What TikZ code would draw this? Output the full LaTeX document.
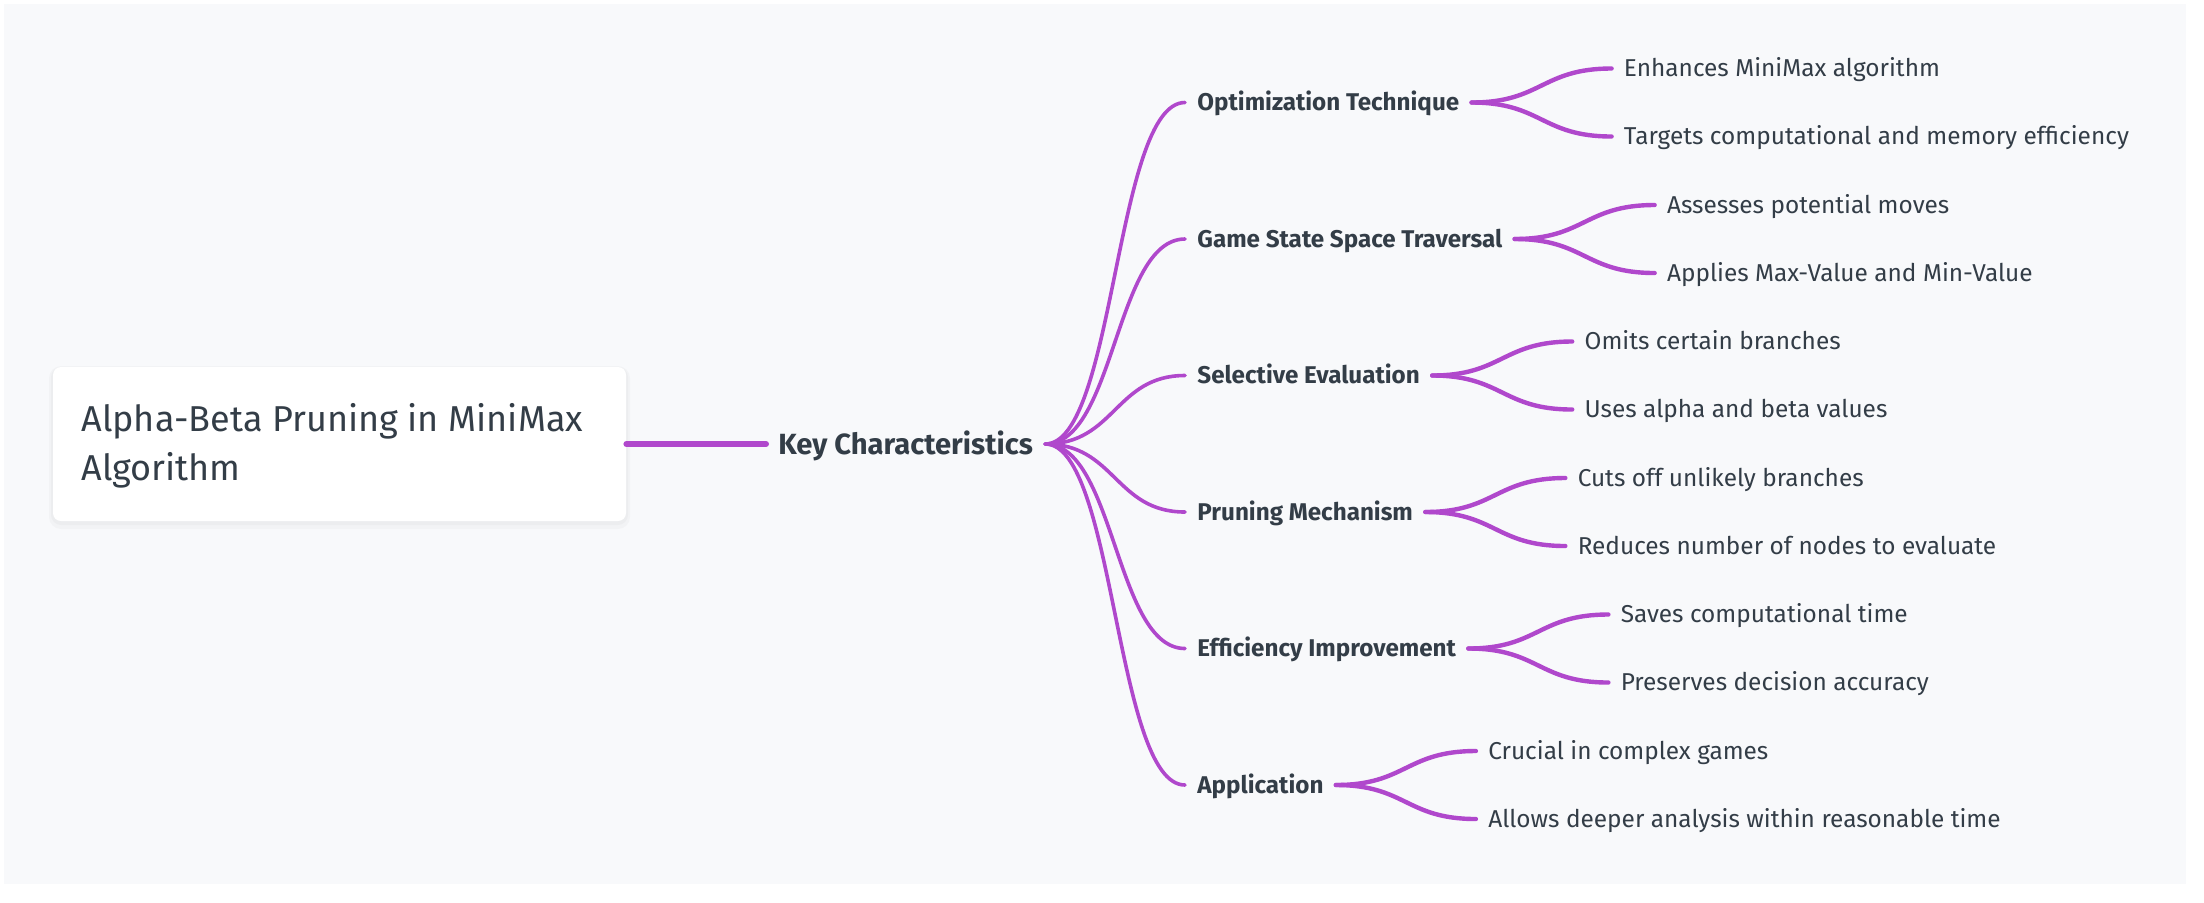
\documentclass[tikz,border=0pt]{standalone}
\usepackage{fontspec}
\setmainfont{Fira Sans}
\usetikzlibrary{calc}
\definecolor{bgc}{HTML}{F8F9FB}
\definecolor{linec}{HTML}{B048CC}
\definecolor{txtc}{HTML}{333D47}
\newcommand\mmcurve[3]{\draw[#1] (#2) .. controls ($(#2)!0.5!(#2-|#3)$) and ($(#3)!0.5!(#3-|#2)$) .. (#3);}
\begin{document}
\begin{tikzpicture}[x=0.5pt,y=-0.5pt,
  leaf/.style={anchor=west, font=\fontsize{12.2pt}{14pt}\selectfont, text=txtc, inner xsep=6pt, inner ysep=0pt, text height=8.4pt, text depth=0pt},
  child/.style={leaf, font=\fontsize{12.1pt}{14pt}\selectfont\bfseries},
  keynode/.style={anchor=west, font=\fontsize{14.6pt}{17pt}\selectfont\bfseries, text=txtc, inner xsep=6pt, inner ysep=0pt, text height=10pt, text depth=0pt},
  rootbox/.style={fill=white, rounded corners=4pt, minimum width=286.5pt, minimum height=77pt, inner sep=0pt},
  roottext/.style={anchor=west, align=left, inner sep=0pt, font=\fontsize{18pt}{24.5pt}\selectfont, text=txtc},
  rootline/.style={draw=linec, line width=3pt, line cap=round},
  kline/.style={draw=linec, line width=1.8pt, line cap=round},
  lline/.style={draw=linec, line width=2.2pt, line cap=round}
]
\useasboundingbox (0,0) rectangle (2204,902);
\fill[white] (0,0) rectangle (2204,902);
\fill[bgc] (4,4) rectangle (2186,884);
% shadow
\fill[black, opacity=0.025, rounded corners=6pt] (49,366) rectangle (630,529);
\fill[black, opacity=0.025, rounded corners=5pt] (51,367) rectangle (628,525);

\node[rootbox] (root) at (339.5,444) {};
\node[roottext] (rtext) at (81,446) {Alpha-Beta Pruning in MiniMax\\Algorithm};
\node[keynode] (key) at (766,444) {Key Characteristics};
\draw[rootline] (root.east) -- (key.west);

\node[child] (c1) at (1185,102.5) {Optimization Technique};
\node[child] (c2) at (1185,239) {Game State Space Traversal};
\node[child] (c3) at (1185,375.5) {Selective Evaluation};
\node[child] (c4) at (1185,512) {Pruning Mechanism};
\node[child] (c5) at (1185,648.5) {Efficiency Improvement};
\node[child] (c6) at (1185,785) {Application};

\foreach \c in {c1,c2,c3,c4,c5,c6} {\mmcurve{kline}{key.east}{\c.west}}

\node[leaf] (l1a) at ($(c1.east)+(140,-34)$) {Enhances MiniMax algorithm};
\node[leaf] (l1b) at ($(c1.east)+(140,34)$) {Targets computational and memory efficiency};
\node[leaf] (l2a) at ($(c2.east)+(140,-34)$) {Assesses potential moves};
\node[leaf] (l2b) at ($(c2.east)+(140,34)$) {Applies Max-Value and Min-Value};
\node[leaf] (l3a) at ($(c3.east)+(140,-34)$) {Omits certain branches};
\node[leaf] (l3b) at ($(c3.east)+(140,34)$) {Uses alpha and beta values};
\node[leaf] (l4a) at ($(c4.east)+(140,-34)$) {Cuts off unlikely branches};
\node[leaf] (l4b) at ($(c4.east)+(140,34)$) {Reduces number of nodes to evaluate};
\node[leaf] (l5a) at ($(c5.east)+(140,-34)$) {Saves computational time};
\node[leaf] (l5b) at ($(c5.east)+(140,34)$) {Preserves decision accuracy};
\node[leaf] (l6a) at ($(c6.east)+(140,-34)$) {Crucial in complex games};
\node[leaf] (l6b) at ($(c6.east)+(140,34)$) {Allows deeper analysis within reasonable time};

\foreach \p/\l in {c1/l1a,c1/l1b,c2/l2a,c2/l2b,c3/l3a,c3/l3b,c4/l4a,c4/l4b,c5/l5a,c5/l5b,c6/l6a,c6/l6b} {\mmcurve{lline}{\p.east}{\l.west}}
\end{tikzpicture}
\end{document}
